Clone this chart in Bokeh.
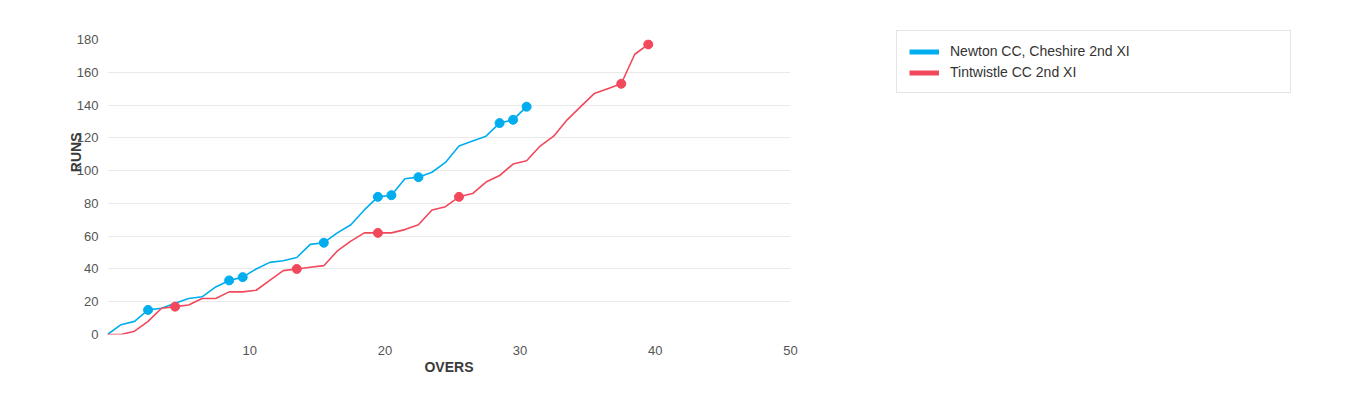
from bokeh.plotting import figure
from bokeh.models import Range1d, FixedTicker, Legend, LegendItem, LinearAxis, Title
from bokeh.embed import file_html
from bokeh.resources import INLINE

# ---- data ----
series_names = ["Newton CC, Cheshire 2nd XI", "Tintwistle CC 2nd XI"]
series_colors = ["#00aeef", "#f1485b"]

newton_overs = list(range(0, 32))
newton_runs = [0, 6, 8, 15, 16, 19, 22, 23, 29, 33, 35, 40, 44, 45, 47, 55,
               56, 62, 67, 76, 84, 85, 95, 96, 99, 105, 115, 118, 121, 129, 131, 139]
newton_wkt_overs = [3, 9, 10, 16, 20, 21, 23, 29, 30, 31]

tint_overs = list(range(0, 41))
tint_runs = [0, 0, 2, 8, 16, 17, 18, 22, 22, 26, 26, 27, 33, 39, 40, 41, 42,
             51, 57, 62, 62, 62, 64, 67, 76, 78, 84, 86, 93, 97, 104, 106,
             115, 121, 131, 139, 147, 150, 153, 171, 177]
tint_wkt_overs = [5, 14, 20, 26, 38, 40]

x_ticks = [10, 20, 30, 40, 50]
y_ticks = [0, 20, 40, 60, 80, 100, 120, 140, 160, 180]

FONT = "Liberation Sans"

p = figure(frame_width=683, frame_height=295, output_backend="svg", toolbar_location=None,
           x_range=Range1d(0, 50.52), y_range=Range1d(0, 180), x_axis_type=None,
           min_border_left=107, min_border_right=0, min_border_top=39, min_border_bottom=51)
p.outline_line_color = None
p.title.visible = False

# label axis: tick labels sit just right of their tick, as in the reference
p.extra_x_ranges = {"lab": Range1d(-0.52, 50.001)}
# range used only for the thick legend swatches (kept out of view)
p.extra_y_ranges = {"swatch": Range1d(-1000, -999)}
xax = LinearAxis(x_range_name="lab", ticker=FixedTicker(ticks=x_ticks))
p.add_layout(xax, "below")

p.xgrid.visible = False
p.ygrid.ticker = FixedTicker(ticks=y_ticks)
p.ygrid.grid_line_color = "#e9e9e9"
p.ygrid.grid_line_width = 1

p.yaxis.ticker = FixedTicker(ticks=y_ticks)
for ax in (xax, p.yaxis[0]):
    ax.axis_line_color = None
    ax.major_tick_line_color = None
    ax.minor_tick_line_color = None
    ax.major_label_text_font = FONT
    ax.major_label_text_font_size = "13px"
    ax.major_label_text_color = "#555555"
    ax.axis_label_text_font = FONT
    ax.axis_label_text_font_size = "14px"
    ax.axis_label_text_font_style = "bold"
    ax.axis_label_text_color = "#3a3a3a"
xax.major_label_standoff = 5
xax.axis_label = "OVERS"
xax.axis_label_standoff = 1
p.yaxis.major_label_standoff = 3

ytitle = Title(text="RUNS", align="right", offset=93, standoff=-20,
               text_font=FONT, text_font_size="14px", text_font_style="bold",
               text_color="#3a3a3a")
p.add_layout(ytitle, "left")

legend_items = []
for name, overs, runs, wk, col in [(series_names[0], newton_overs, newton_runs, newton_wkt_overs, series_colors[0]),
                                   (series_names[1], tint_overs, tint_runs, tint_wkt_overs, series_colors[1])]:
    p.line(overs, runs, line_color=col, line_width=1.6)
    wy = [runs[overs.index(o)] for o in wk]
    p.scatter(wk, wy, size=9, fill_color=col, line_color=col)
    sw = p.line(overs, runs, line_color=col, line_width=5, y_range_name="swatch")
    legend_items.append(LegendItem(label=name, renderers=[sw]))

legend = Legend(items=legend_items, location=(106, 241), orientation="vertical",
                label_text_font=FONT, label_text_font_size="14px", label_text_color="#333333",
                glyph_width=30, glyph_height=13, label_height=13, label_width=328,
                label_standoff=11, spacing=5, padding=12, margin=0,
                border_line_color="#cccccc", border_line_width=1, background_fill_alpha=0)
p.add_layout(legend, "right")

open("out.html", "w").write(file_html(p, INLINE))
